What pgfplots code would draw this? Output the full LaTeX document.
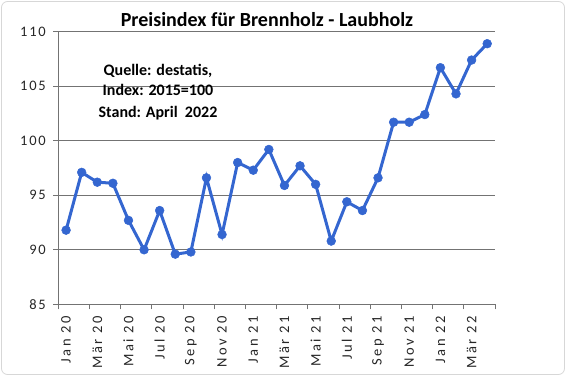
\documentclass[border=0pt]{standalone}
\usepackage{pgfplots}
\pgfplotsset{compat=1.18}
\usepackage{fontspec}
\setmainfont{Carlito}
\newfontfamily\tickfont[LetterSpace=18]{Carlito}
\newfontfamily\ytickfont[LetterSpace=12]{Carlito}
\definecolor{lineblue}{RGB}{52,102,208}
\definecolor{gridgray}{RGB}{115,115,115}
\definecolor{framegray}{RGB}{215,215,215}
\begin{document}
\begin{tikzpicture}
\path[use as bounding box] (0pt,0pt) rectangle (566pt,376pt);
\draw[framegray, line width=0.8pt, rounded corners=6pt] (1.5pt,1.5pt) rectangle (564.5pt,374.5pt);
\begin{axis}[
  at={(58.3pt,71.7pt)}, anchor=south west,
  scale only axis, width=436.7pt, height=272.6pt,
  xmin=-0.5, xmax=27.5, ymin=85, ymax=110,
  ytick={85,90,...,110},
  xtick={0,2,...,26},
  xticklabels={Jan 20,Mär 20,Mai 20,Jul 20,Sep 20,Nov 20,Jan 21,Mär 21,Mai 21,Jul 21,Sep 21,Nov 21,Jan 22,Mär 22},
  minor xtick={-0.5,1.5,...,27.5},
  axis x line*=bottom, axis y line*=left,
  axis line style={gridgray, line width=0.8pt, -},
  ymajorgrids, grid style={gridgray, line width=0.8pt},
  tick style={gridgray, line width=0.8pt},
  major x tick style={draw=none},
  tick align=outside, major tick length=5pt, minor tick length=5pt,
  x tick label style={rotate=90, anchor=east, xshift=-3pt, font=\tickfont\fontsize{14.5}{14.5}\selectfont, text=black!85},
  y tick label style={xshift=-4pt, font=\ytickfont\fontsize{14.5}{14.5}\selectfont, text=black!85},
  /pgf/number format/assume math mode=true,
  clip=false,
]
\addplot[lineblue, line width=3pt, mark=*, mark size=4.4pt, mark options={fill=lineblue, draw=lineblue, line width=0.5pt}] table {
x y
0 91.8
1 97.1
2 96.2
3 96.1
4 92.7
5 90.0
6 93.6
7 89.6
8 89.8
9 96.6
10 91.4
11 98.0
12 97.3
13 99.2
14 95.9
15 97.7
16 96.0
17 90.8
18 94.4
19 93.6
20 96.6
21 101.7
22 101.7
23 102.4
24 106.7
25 104.3
26 107.4
27 108.9
};
\end{axis}
\node[anchor=base, font=\bfseries\fontsize{20}{20}\selectfont] at (267pt,349pt) {Preisindex für Brennholz - Laubholz};
\node[anchor=base, font=\bfseries\fontsize{16}{16}\selectfont] at (158pt,301pt) {Quelle: destatis,};
\node[anchor=base, font=\bfseries\fontsize{16}{16}\selectfont] at (158pt,281pt) {Index: 2015=100};
\node[anchor=base, font=\bfseries\fontsize{16}{16}\selectfont] at (158pt,259pt) {Stand: April~~2022};
\end{tikzpicture}
\end{document}
